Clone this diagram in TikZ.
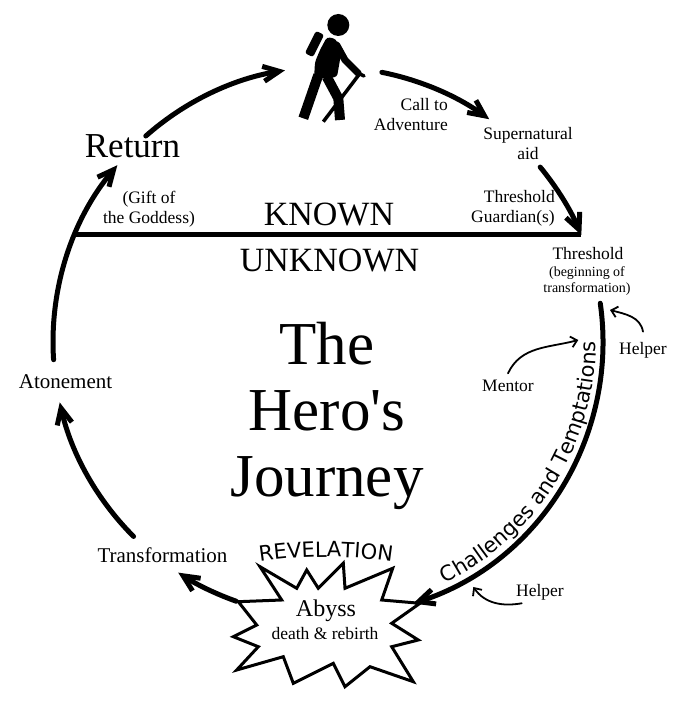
\documentclass[tikz,border=0pt]{standalone}
\usepackage{fontspec}
\setmainfont{Liberation Serif}[Ligatures=TeXOff]
\newfontfamily\signfont{DejaVu Sans}
\newcommand\signsize{\signfont\fontsize{21}{21}\selectfont}
\usetikzlibrary{
  arrows.meta,
  decorations.text,
}
\tikzset{
  >=Straight Barb[],
  stage/.style={font=\fontsize{21}{25}\selectfont, inner sep=0pt, anchor=base},
  note/.style={font=\fontsize{17.5}{20}\selectfont, inner sep=0pt, anchor=base, align=center},
  journey/.style={line width=5pt, line cap=round, -{Straight Barb[length=16pt,width=15pt]}},
  helper arrow/.style={line width=1.8pt, line cap=round, -{Straight Barb[length=6pt,width=11pt]}},
}

\begin{document}
\begin{tikzpicture}[x=1pt,y=1pt]
  \useasboundingbox (0,0) rectangle (687,706);
  \coordinate (hub) at (328,364);
  \foreach \name/\ang in {ret-a/131.5, ret-b/99, call-a/78.7, call-b/54.1,
      aid-a/39.5, aid-b/22.9, thr-a/8.1, thr-b/-72, aby-a/-109.5, aby-b/-123,
      tra-a/225, tra-b/192.7, ato-a/183.7, ato-b/140, known-l/157.1}
  {
    \path (hub) ++(\ang:275pt) coordinate (\name);
  }

  % the loop
  \draw[journey] (ret-a) arc[start angle=131.5, end angle=99, radius=275pt];
  \draw[journey] (call-a) arc[start angle=78.7, end angle=54.1, radius=275pt];
  \draw[journey] (aid-a) arc[start angle=39.5, end angle=22.9, radius=275pt];
  \draw[journey] (thr-a) arc[start angle=8.1, end angle=-72, radius=275pt];
  \draw[journey] (aby-a) arc[start angle=-109.5, end angle=-123, radius=275pt];
  \draw[journey] (tra-a) arc[start angle=225, end angle=192.7, radius=275pt];
  \draw[journey] (ato-a) arc[start angle=183.7, end angle=140, radius=275pt];
  \draw[line width=5pt] (known-l) -- (aid-b);

  % abyss
  \draw[line width=3pt, fill=white] (260,139.3) -- (296.7,117.7) -- (306.7,136)
    -- (318.3,117.7) -- (343.3,142.7) -- (345,117.7) -- (392.7,137.7)
    -- (381.7,106) -- (420,102.7) -- (391.7,82.7) -- (418.3,66) -- (391.7,59.3)
    -- (413.3,24.3) -- (370,39.3) -- (345,19.3) -- (333.3,42.7) -- (293.3,22.7)
    -- (283.3,49.3) -- (236.7,36) -- (258.3,59.3) -- (233.3,69.3) -- (256.7,81)
    -- (238.3,104.3) -- (281.7,106) -- cycle;
  \node[font=\fontsize{24}{24}\selectfont, inner sep=0pt, anchor=base] (abyss) at (326,89) {Abyss};
  \node[note] (rebirth) at (325,66) {death \& rebirth};

  % hiker
  \fill (338.3,681) circle[radius=11pt];
  \fill[rounded corners=2.5pt, rotate around={63.4:(314.5,662)}] (302,657.5) rectangle (327,666.5);
  \fill[rounded corners=3pt] (327,669) -- (336,667) -- (341,652) -- (337,629)
    -- (314,627) -- (315,644) -- (320,656) -- cycle;
  \draw[line width=7pt, line cap=round, line join=round] (336.7,661) -- (345,646) -- (358.3,632.7);
  \draw[line width=3.5pt] (360,632.7) -- (323.3,584.3);
  \draw[line width=3.5pt, line cap=round] (354,635) -- (364,630);
  \draw[line width=10pt] (318.3,631) -- (303.3,587.7);
  \draw[line width=10pt, line join=round] (326.7,629.3) -- (338.3,607.7) -- (340,586);

  % stages
  \node[stage, font=\fontsize{35}{35}\selectfont] (return) at (132.5,548) {Return};
  \node[note] (gift) at (149,482) {(Gift of\\the Goddess)};
  \node[stage, font=\fontsize{34}{34}\selectfont] (known) at (329,480) {KNOWN};
  \node[stage, font=\fontsize{34}{34}\selectfont] (unknown) at (329.5,434) {UNKNOWN};
  \node[stage, font=\fontsize{61}{66}\selectfont, align=center] (title) at (327,209) {The\\Hero's\\Journey};
  \node[note, align=right, anchor=base east] (call) at (448,575) {Call to\\Adventure};
  \node[note] (supernatural) at (528,546) {Supernatural\\aid};
  \node[note, align=right, anchor=base east] (guardian) at (555,483) {Threshold\\Guardian(s)};
  \node[note] (threshold) at (588,446) {Threshold};
  \node[note, font=\fontsize{14}{16}\selectfont] (threshold-sub) at (587,413) {(beginning of\\transformation)};
  \node[note] (helper-a) at (643,351) {Helper};
  \node[note] (mentor) at (508,314) {Mentor};
  \node[note] (helper-b) at (540,109) {Helper};
  \node[stage] (atonement) at (65.5,317) {Atonement};
  \node[stage] (transformation) at (162.5,143) {Transformation};

  % helpers
  \coordinate (mentor-tip) at (578.3,366);
  \coordinate (helper-a-tip) at (610,396);
  \coordinate (helper-b-tail) at (521.7,102.7);
  \coordinate (helper-b-tip) at (473.3,119);
  \draw[helper arrow] ([yshift=7pt]mentor.north) to[out=65, in=195] (mentor-tip);
  \draw[helper arrow] ([yshift=11pt]helper-a.north) to[out=100, in=-15] (helper-a-tip);
  \draw[helper arrow] (helper-b-tail) to[out=190, in=-55] (helper-b-tip);

  % curved labels
  \path (hub) ++(-70:268pt) coordinate (chal-a);
  \path[decorate, decoration={text along path, text align=center,
      text={|\signsize|Challenges and Temptations}}]
    (chal-a) arc[start angle=-70, end angle=6, radius=268pt];
  \coordinate (rev-hub) at (326,-291);
  \path (rev-hub) ++(100:440pt) coordinate (rev-a);
  \path[decorate, decoration={text along path, text align=center,
      text={|\signsize|REVELATION}}]
    (rev-a) arc[start angle=100, end angle=80, radius=440pt];
\end{tikzpicture}
\end{document}
